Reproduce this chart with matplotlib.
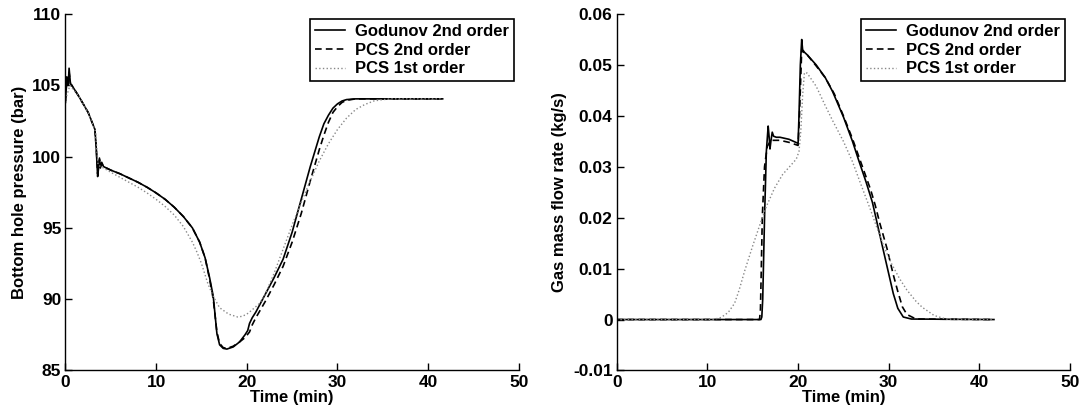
import matplotlib
matplotlib.use("Agg")
import matplotlib.pyplot as plt

plt.rcParams['font.family'] = ['Liberation Sans', 'DejaVu Sans']
plt.rcParams['font.weight'] = 'bold'

# ---- left panel: bottom hole pressure (bar) ----
t_god_p = [0, 0.15, 0.3, 0.4, 0.55, 0.7, 1.5, 2.5, 3.25, 3.4, 3.55, 3.65, 3.75, 3.85, 4.0, 4.2,
           5, 6, 7, 8, 9, 10, 11, 12, 13, 14, 14.8, 15.4, 15.9, 16.3, 16.7, 17.0, 17.4, 17.8,
           18.5, 19.2, 19.8, 20.1, 20.3, 20.6, 21, 22, 23, 24, 25, 26, 27, 28, 28.5, 29, 29.5,
           30, 30.5, 31, 32, 41.6]
p_god = [103.8, 105.6, 105.0, 106.2, 105.1, 105.0, 104.2, 103.1, 101.9, 100.5, 98.6, 99.2, 99.9, 99.2, 99.6, 99.3,
         99.05, 98.8, 98.5, 98.2, 97.85, 97.45, 97.0, 96.45, 95.8, 95.0, 94.0, 92.9, 91.5, 90.2, 87.6, 86.8, 86.55, 86.5,
         86.65, 87.0, 87.5, 87.8, 88.3, 88.7, 89.1, 90.3, 91.5, 92.8, 94.7, 97.0, 99.3, 101.4, 102.3, 102.9, 103.4,
         103.7, 103.9, 104.0, 104.05, 104.05]

t_pcs2_p = [0, 0.15, 0.3, 0.4, 0.55, 0.7, 1.5, 2.5, 3.25, 3.4, 3.55, 3.65, 3.75, 3.85, 4.0, 4.2,
            5, 6, 7, 8, 9, 10, 11, 12, 13, 14, 14.8, 15.4, 15.9, 16.3, 16.7, 17.0, 17.4, 17.8,
            18.5, 19.2, 19.8, 20.3, 20.6, 21, 22, 23, 24, 25, 26, 27, 28, 28.5, 29, 29.5,
            30, 30.5, 31, 32, 41.6]
p_pcs2 = [103.9, 105.4, 105.2, 105.9, 105.1, 105.0, 104.2, 103.1, 101.9, 100.6, 98.8, 99.3, 99.8, 99.3, 99.5, 99.3,
          99.05, 98.8, 98.5, 98.2, 97.85, 97.45, 97.0, 96.45, 95.8, 95.0, 94.0, 92.9, 91.4, 90.0, 87.7, 86.9, 86.6, 86.55,
          86.7, 87.0, 87.3, 87.7, 88.2, 88.7, 89.8, 91.0, 92.3, 94.0, 96.0, 98.3, 100.5, 101.5, 102.4, 103.1,
          103.5, 103.8, 103.95, 104.05, 104.05]

t_pcs1_p = [0, 0.5, 1.5, 2.5, 3.3, 3.6, 4.2, 5, 6, 7, 8, 9, 10, 11, 12, 13, 14, 14.5, 15, 15.7, 16.3,
            17, 18, 19, 19.5, 20, 20.5, 21.4, 22, 23, 24, 25, 26, 27, 28, 29, 30, 31, 32, 33, 34, 35,
            36, 41.6]
p_pcs1 = [104.0, 105.0, 104.2, 103.1, 101.8, 99.4, 99.2, 98.9, 98.55, 98.2, 97.85, 97.45, 97.0, 96.5, 95.9, 95.1, 94.0,
          93.3, 92.5, 91.1, 90.2, 89.4, 88.95, 88.75, 88.8, 88.95, 89.2, 89.7, 90.3, 91.8, 93.5, 95.2, 96.8, 98.3,
          99.7, 100.9, 101.9, 102.7, 103.3, 103.65, 103.9, 104.0, 104.05, 104.05]

# ---- right panel: gas mass flow rate (kg/s) ----
t_god_q = [0, 15.9, 16.0, 16.1, 16.3, 16.5, 16.7, 16.8, 16.9, 17.0, 17.15, 17.3, 17.6, 18, 19, 20.0,
           20.1, 20.25, 20.4, 20.5, 20.7, 21, 22, 23, 23.8, 25, 26, 26.7, 27.5, 28.2, 29.4, 30.5,
           31.0, 31.6, 32.5, 41.6]
q_god = [0, 0, 0.0005, 0.004, 0.02, 0.033, 0.038, 0.036, 0.0335, 0.035, 0.0368, 0.0360, 0.0358, 0.0358, 0.0354, 0.0346,
         0.040, 0.050, 0.055, 0.053, 0.0525, 0.052, 0.050, 0.0475, 0.0448, 0.0398, 0.0350, 0.0312, 0.027, 0.0230,
         0.0136, 0.0051, 0.0022, 0.0005, 0.0001, 0.0]

t_pcs2_q = [0, 15.75, 15.85, 16.0, 16.05, 16.3, 16.6, 17.0, 18, 19, 20.0, 20.15, 20.4, 20.6, 21, 22, 23,
            24, 25, 26, 27, 28, 28.5, 29, 29.8, 30.5, 31, 31.5, 32, 33, 41.6]
q_pcs2 = [0, 0, 0.002, 0.015, 0.02, 0.030, 0.034, 0.0352, 0.0352, 0.0348, 0.0342, 0.040, 0.053, 0.0525, 0.052,
          0.0498, 0.0475, 0.0443, 0.0400, 0.0355, 0.0305, 0.0255, 0.0225, 0.019, 0.0140, 0.0088, 0.0055, 0.0025,
          0.001, 0.0001, 0.0]

t_pcs1_q = [0, 10.6, 11.5, 12.3, 13, 13.5, 14.1, 15, 15.9, 16.5, 17.4, 18.3, 19.2, 19.8, 20.1, 20.3, 20.5,
            20.7, 21, 22, 23, 23.8, 25, 26, 27, 28, 28.7, 29.5, 30.3, 31.2, 32, 33, 33.7, 35, 36.3, 41.6]
q_pcs1 = [0, 0, 0.0004, 0.0014, 0.0032, 0.0058, 0.0095, 0.0145, 0.0192, 0.0222, 0.0258, 0.0285, 0.0303, 0.0315, 0.033,
          0.037, 0.044, 0.0485, 0.0484, 0.0458, 0.0420, 0.0391, 0.0350, 0.0310, 0.0262, 0.0215, 0.0180, 0.0142,
          0.0110, 0.0080, 0.0058, 0.0036, 0.0024, 0.0008, 0.0001, 0.0]

labels = ['Godunov 2nd order', 'PCS 2nd order', 'PCS 1st order']

fig = plt.figure(figsize=(10.82, 4.13), dpi=100)
ax1 = fig.add_axes([0.0605, 0.103, 0.419, 0.863])
ax2 = fig.add_axes([0.570, 0.103, 0.419, 0.863])


def style_axes(ax):
    for side in ['top', 'right']:
        ax.spines[side].set_visible(False)
    for side in ['left', 'bottom']:
        ax.spines[side].set_linewidth(1.0)
    ax.tick_params(direction='in', length=5, width=1, labelsize=12.5, pad=3)
    ax.set_xlim(0, 50)
    ax.set_xticks([0, 10, 20, 30, 40, 50])
    ax.set_xlabel('Time (min)', fontsize=12, fontweight='bold', labelpad=0)
    leg = ax.legend(labels, loc='upper right', fontsize=12, frameon=True, fancybox=False,
                    edgecolor='black', framealpha=1, handlelength=1.8, labelspacing=0.22,
                    borderaxespad=0.3, borderpad=0.3, handletextpad=0.6)
    leg.get_frame().set_linewidth(1.2)


ax1.plot(t_god_p, p_god, '-', color='black', lw=1.2)
ax1.plot(t_pcs2_p, p_pcs2, '--', color='black', lw=1.2, dashes=(4, 2.5))
ax1.plot(t_pcs1_p, p_pcs1, ':', color='#888888', lw=1.0)
ax1.set_ylim(85, 110)
ax1.set_yticks([85, 90, 95, 100, 105, 110])
ax1.set_ylabel('Bottom hole pressure (bar)', fontsize=12, fontweight='bold', labelpad=4)
style_axes(ax1)

ax2.plot(t_god_q, q_god, '-', color='black', lw=1.2)
ax2.plot(t_pcs2_q, q_pcs2, '--', color='black', lw=1.2, dashes=(4, 2.5))
ax2.plot(t_pcs1_q, q_pcs1, ':', color='#888888', lw=1.0)
ax2.set_ylim(-0.01, 0.06)
ax2.set_yticks([-0.01, 0, 0.01, 0.02, 0.03, 0.04, 0.05, 0.06])
ax2.set_yticklabels(['-0.01', '0', '0.01', '0.02', '0.03', '0.04', '0.05', '0.06'])
ax2.set_ylabel('Gas mass flow rate (kg/s)', fontsize=12, fontweight='bold', labelpad=4)
style_axes(ax2)

fig.savefig('out.png', dpi=100)
